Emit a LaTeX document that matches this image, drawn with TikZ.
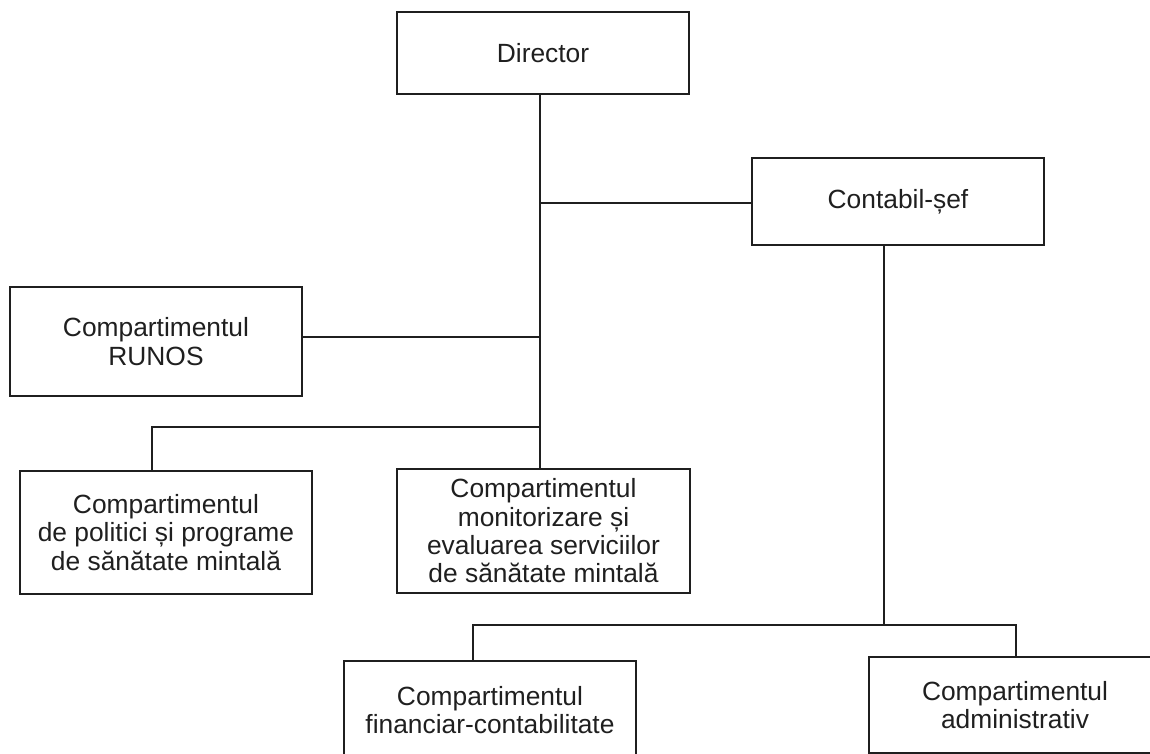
\documentclass[tikz,border=0pt]{standalone}
\usepackage{fontspec}
\setmainfont{Liberation Sans}
\begin{document}
\begin{tikzpicture}[x=0.02cm,y=-0.02cm,
  box/.style={draw=black!88, line width=1.1pt, align=center, inner sep=0pt,
    minimum width=5.84cm, font=\fontsize{15}{16.1}\selectfont, text=black!88},
  link/.style={draw=black!88, line width=0.9pt}]
\useasboundingbox (0,0) rectangle (1150,754);
\clip (0,0) rectangle (1150,754);

\node[box, minimum height=1.64cm] (dir) at (543,53) {Director};
\node[box, minimum height=1.74cm] (cont) at (898,201.5) {Contabil-șef};
\node[box, minimum height=2.18cm] (runos) at (156,341.5) {Compartimentul\\RUNOS};
\node[box, minimum height=2.46cm] (pol) at (166,532.5) {Compartimentul\\de politici și programe\\de sănătate mintală};
\node[box, minimum width=5.86cm, minimum height=2.48cm] (mon) at (543.5,531) {Compartimentul\\monitorizare și\\evaluarea serviciilor\\de sănătate mintală};
\node[box, minimum height=1.96cm] (fin) at (490,710) {Compartimentul\\financiar-contabilitate};
\node[box, minimum height=1.92cm] (adm) at (1015,705) {Compartimentul\\administrativ};

\coordinate (tA) at (540,203);
\coordinate (tB) at (540,337);
\coordinate (tC) at (540,427);
\coordinate (cL) at (152,427);
\coordinate (cB) at (884,625);
\coordinate (fL) at (473,625);
\coordinate (fR) at (1016,625);

\draw[link] (dir.south -| tC) -- (mon.north -| tC);
\draw[link] (tA) -- (cont.west |- tA);
\draw[link] (runos.east |- tB) -- (tB);
\draw[link] (tC) -- (cL) -- (pol.north -| cL);
\draw[link] (cont.south -| cB) -- (cB);
\draw[link] (fin.north -| fL) -- (fL) -- (fR) -- (adm.north -| fR);
\end{tikzpicture}
\end{document}
